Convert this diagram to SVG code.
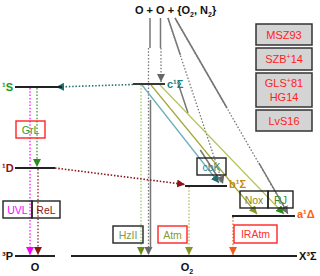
<svg xmlns="http://www.w3.org/2000/svg" width="320" height="276" viewBox="0 0 320 276">
<style>
text{font-family:"Liberation Sans",Arial,sans-serif;}
.lvl{stroke:#222;stroke-width:1.8;fill:none}
.lab{font-weight:bold;font-size:11px}
.box{fill:none;stroke-width:1.4}
.bk{stroke:#222}
.rd{stroke:#f22}
.bt{font-size:10.5px;text-anchor:middle}
.ref{fill:#d4d4d4;stroke:#333;stroke-width:1.5}
.rt{font-size:11px;fill:#f22;text-anchor:middle}
.dot{stroke-dasharray:1.5 1.8;fill:none}
.sol{fill:none}
</style>
<defs>
<marker id="aGray" markerUnits="userSpaceOnUse" markerWidth="8" markerHeight="8" refX="8" refY="4" orient="auto"><path d="M0,0 L8,4 L0,8 z" fill="#666"/></marker>
<marker id="aTeal" markerUnits="userSpaceOnUse" markerWidth="8" markerHeight="8" refX="8" refY="4" orient="auto"><path d="M0,0 L8,4 L0,8 z" fill="#1f6b70"/></marker>
<marker id="aOlive" markerUnits="userSpaceOnUse" markerWidth="8" markerHeight="8" refX="8" refY="4" orient="auto"><path d="M0,0 L8,4 L0,8 z" fill="#8a9420"/></marker>
<marker id="aGreen" markerUnits="userSpaceOnUse" markerWidth="8" markerHeight="8" refX="8" refY="4" orient="auto"><path d="M0,0 L8,4 L0,8 z" fill="#2e8a1e"/></marker>
<marker id="aRed" markerUnits="userSpaceOnUse" markerWidth="8" markerHeight="8" refX="8" refY="4" orient="auto"><path d="M0,0 L8,4 L0,8 z" fill="#8b1414"/></marker>
<marker id="aMag" markerUnits="userSpaceOnUse" markerWidth="8" markerHeight="8" refX="8" refY="4" orient="auto"><path d="M0,0 L8,4 L0,8 z" fill="#f0f"/></marker>
<marker id="aOr" markerUnits="userSpaceOnUse" markerWidth="8" markerHeight="8" refX="8" refY="4" orient="auto"><path d="M0,0 L8,4 L0,8 z" fill="#f45a1a"/></marker>
<marker id="aHz" markerUnits="userSpaceOnUse" markerWidth="8" markerHeight="8" refX="8" refY="4" orient="auto"><path d="M0,0 L8,4 L0,8 z" fill="#6a8a20"/></marker>
</defs>

<g id="connectors">
<!-- gray recombination lines -->
<line class="dot" x1="148.5" y1="48" x2="148.5" y2="255" stroke="#777" stroke-width="1.3" marker-end="url(#aGray)"/>
<line class="sol" x1="150" y1="18" x2="150" y2="48" stroke="#777" stroke-width="1.5"/>
<line class="sol" x1="150.5" y1="100" x2="150.5" y2="248" stroke="#777" stroke-width="1.5"/>

<line class="dot" x1="161" y1="48" x2="161" y2="82" stroke="#777" stroke-width="1.3" marker-end="url(#aGray)"/>
<line class="sol" x1="160.5" y1="18" x2="160.5" y2="48" stroke="#777" stroke-width="1.5"/>

<line class="dot" x1="168" y1="18" x2="223" y2="184" stroke="#777" stroke-width="1.3" marker-end="url(#aGray)"/>
<path class="sol" d="M168,18 L180.3,55 M177.7,82 L188,113 M200.3,150 L221,182" stroke="#777" stroke-width="1.5"/>

<line class="dot" x1="175" y1="18" x2="288" y2="214" stroke="#777" stroke-width="1.3" marker-end="url(#aGray)"/>
<path class="sol" d="M175,18 L227,108 M259,163 L286,210" stroke="#777" stroke-width="1.5"/>

<!-- c1Sigma transitions -->
<line class="dot" x1="141" y1="85" x2="141" y2="255" stroke="#9ccc66" stroke-width="1.3" marker-end="url(#aHz)"/>
<line x1="142" y1="85" x2="219" y2="183" stroke="#6fb0b8" stroke-width="1.3" marker-end="url(#aTeal)"/>
<line x1="151" y1="85" x2="257" y2="214" stroke="#a3a838" stroke-width="1.2" marker-end="url(#aOlive)"/>
<line x1="160" y1="85" x2="284" y2="214" stroke="#b4c45a" stroke-width="1.2" marker-end="url(#aGreen)"/>
<line class="dot" x1="133" y1="84.5" x2="56" y2="87" stroke="#2a7070" stroke-width="1.6" stroke-dasharray="2.5 2.5" marker-end="url(#aTeal)"/>

<!-- O atom transitions -->
<line class="dot" x1="30" y1="88" x2="30" y2="255" stroke="#f0f" stroke-width="1.2" marker-end="url(#aMag)"/>
<line class="dot" x1="37" y1="88" x2="37" y2="167" stroke="#2e8a1e" stroke-width="1.2" marker-end="url(#aGreen)"/>
<line class="dot" x1="38" y1="169" x2="38" y2="255" stroke="#8b1414" stroke-width="1.2" marker-end="url(#aRed)"/>
<line class="dot" x1="55" y1="168" x2="185" y2="184.5" stroke="#8b1414" stroke-width="1.6" stroke-dasharray="2.5 2.5" marker-end="url(#aRed)"/>

<!-- O2 transitions -->
<line class="dot" x1="189" y1="187" x2="189" y2="255" stroke="#b4b450" stroke-width="1.2" marker-end="url(#aOlive)"/>
<line class="dot" x1="233" y1="217" x2="233" y2="255" stroke="#f45a1a" stroke-width="1.2" marker-end="url(#aOr)"/>
</g>

<g id="title"><text x="135" y="14" class="lab" fill="#111">O + O + {O<tspan font-size="7" dy="2.5">2</tspan><tspan dy="-2.5">, N</tspan><tspan font-size="7" dy="2.5">2</tspan><tspan dy="-2.5">}</tspan></text></g>

<g id="level-1S"><line class="lvl" x1="15" y1="87" x2="62" y2="87"/><text x="2" y="91" class="lab" fill="#1a9a1a">¹S</text></g>
<g id="level-1D"><line class="lvl" x1="15" y1="168" x2="55" y2="168"/><text x="2" y="172" class="lab" fill="#8b1414">¹D</text></g>
<g id="level-3P"><line class="lvl" x1="15" y1="256" x2="55" y2="256"/><text x="2" y="260" class="lab" fill="#111">³P</text><text x="35" y="271" class="lab" fill="#111" text-anchor="middle">O</text></g>
<g id="level-c"><line class="lvl" x1="133" y1="84" x2="165" y2="84"/><text x="167" y="88" class="lab" fill="#1a8080">c¹Σ</text></g>
<g id="level-b"><line class="lvl" x1="185" y1="186" x2="227" y2="186"/><text x="229" y="188" class="lab" fill="#c08a10">b¹Σ</text></g>
<g id="level-a"><line class="lvl" x1="232" y1="216" x2="295" y2="216"/><text x="297" y="218" class="lab" fill="#ff6010">a¹Δ</text></g>
<g id="level-X"><line class="lvl" x1="71" y1="256" x2="297" y2="256"/><text x="299" y="260" class="lab" fill="#111">X³Σ</text><text x="187" y="271" class="lab" fill="#111" text-anchor="middle">O<tspan font-size="7" dy="2.5">2</tspan></text></g>

<g id="box-GrL"><rect class="box rd" x="16" y="121" width="29" height="17"/><text class="bt" x="30.5" y="133.5" fill="#2aa02a">GrL</text></g>
<g id="box-UVL"><rect class="box bk" x="3" y="201" width="29" height="17"/><text class="bt" x="17.5" y="213.5" fill="#f0f">UVL</text></g>
<g id="box-ReL"><rect class="box bk" x="32" y="201" width="28" height="17"/><text class="bt" x="46" y="213.5" fill="#8b2020">ReL</text></g>
<g id="box-HzII"><rect class="box bk" x="113" y="226" width="30" height="17"/><text class="bt" x="128" y="238.5" fill="#7aa040">HzII</text></g>
<g id="box-Atm"><rect class="box rd" x="158" y="226" width="29" height="17"/><text class="bt" x="172.5" y="238.5" fill="#8a9a30">Atm</text></g>
<g id="box-IRAtm"><rect class="box rd" x="234" y="225" width="43" height="18"/><text class="bt" x="255.5" y="238" fill="#ff3030">IRAtm</text></g>
<g id="box-cbK"><rect class="box bk" x="197" y="158" width="29" height="17"/><text class="bt" x="211.5" y="170.5" fill="#2a8a8a">cbK</text></g>
<g id="box-Nox"><rect class="box bk" x="240" y="191" width="28" height="17"/><text class="bt" x="254" y="203.5" fill="#8a8a20">Nox</text></g>
<g id="box-RJ"><rect class="box bk" x="268" y="191" width="25" height="17"/><text class="bt" x="280.5" y="203.5" fill="#3a8a20">RJ</text></g>

<g id="ref-MSZ93"><rect class="ref" x="256" y="24" width="56" height="21"/><text class="rt" x="284" y="38.5">MSZ93</text></g>
<g id="ref-SZB14"><rect class="ref" x="256" y="48" width="56" height="22"/><text class="rt" x="284" y="63">SZB<tspan font-size="7" dy="-4">+</tspan><tspan dy="4">14</tspan></text></g>
<g id="ref-GLS81"><rect class="ref" x="256" y="73" width="56" height="34"/><text class="rt" x="284" y="87">GLS<tspan font-size="7" dy="-4">+</tspan><tspan dy="4">81</tspan></text><text class="rt" x="284" y="101">HG14</text></g>
<g id="ref-LvS16"><rect class="ref" x="256" y="110" width="56" height="21"/><text class="rt" x="284" y="124.5">LvS16</text></g>
</svg>
